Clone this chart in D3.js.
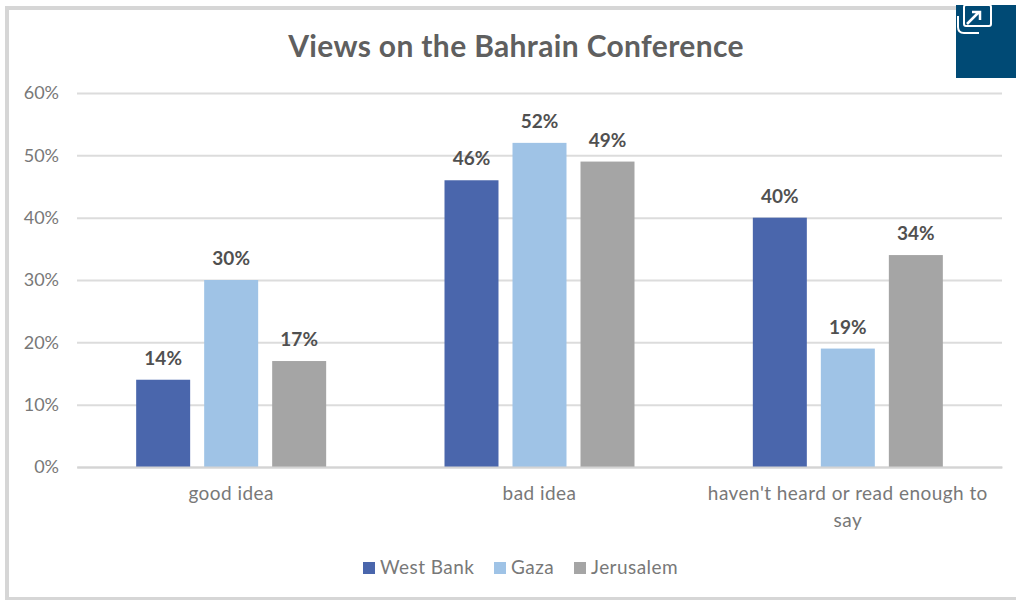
<!DOCTYPE html>
<html>
<head>
<meta charset="utf-8">
<script src="https://cdn.jsdelivr.net/npm/d3@7"></script>
<style>
  html, body { margin: 0; padding: 0; background: #fff; overflow: hidden; }
  text { font-family: Lato, "Open Sans", sans-serif; }
</style>
</head>
<body>
<script>
var categories = ["good idea", "bad idea", "haven't heard or read enough to say"];
var seriesNames = ["West Bank", "Gaza", "Jerusalem"];
var westBank = [14, 46, 40];
var gaza = [30, 52, 19];
var jerusalem = [17, 49, 34];
var yTicks = [0, 10, 20, 30, 40, 50, 60];
var seriesColors = ["#4a66ac", "#9fc3e6", "#a5a5a5"];

var width = 1016, height = 600;
var margin = { top: 93, right: 14, bottom: 133, left: 77 };
var innerH = height - margin.top - margin.bottom;

var svg = d3.select("body").append("svg")
    .attr("width", width)
    .attr("height", height);

// chart frame, the right side runs off the picture
svg.append("rect")
    .attr("x", 7).attr("y", 8)
    .attr("width", 1020).attr("height", 591)
    .attr("fill", "#fff")
    .attr("stroke", "#d6d6d6")
    .attr("stroke-width", 4);

var g = svg.append("g")
    .attr("transform", "translate(" + margin.left + "," + margin.top + ")");

var scaleX = d3.scaleBand().domain(categories).range([0, 925]);
var scaleGroup = d3.scaleBand().domain(seriesNames).range([0, 190]).paddingInner(0.206);
var scaleY = d3.scaleLinear().domain([0, 60]).range([innerH, 0]);

// gridlines and y labels
var axisY = d3.axisLeft(scaleY)
    .tickValues(yTicks)
    .tickSize(-925)
    .tickPadding(18)
    .tickFormat(function(d) { return d + "%"; });

var yAxisG = g.append("g").call(axisY);
yAxisG.select(".domain").remove();
yAxisG.selectAll(".tick line").attr("stroke", "#dcdcdc").attr("stroke-width", 2);
yAxisG.selectAll(".tick text").attr("fill", "#787878").style("font-size", "18px");

// bars
var seriesData = [westBank, gaza, jerusalem];
var groups = g.selectAll(".series")
    .data(seriesNames)
    .enter().append("g")
    .attr("class", "series")
    .attr("fill", function(d, i) { return seriesColors[i]; });

groups.each(function(name, s) {
    var sel = d3.select(this);
    var groupOffset = function(i) {
        return scaleX(categories[i]) + (scaleX.bandwidth() - 190) / 2 + scaleGroup(name);
    };
    sel.selectAll("rect")
        .data(seriesData[s])
        .enter().append("rect")
        .attr("x", function(d, i) { return groupOffset(i); })
        .attr("width", scaleGroup.bandwidth())
        .attr("y", function(d) { return scaleY(d); })
        .attr("height", function(d) { return scaleY(0) - scaleY(d); });
    sel.selectAll("text")
        .data(seriesData[s])
        .enter().append("text")
        .attr("x", function(d, i) { return groupOffset(i) + scaleGroup.bandwidth() / 2; })
        .attr("y", function(d) { return scaleY(d) - 15; })
        .attr("text-anchor", "middle")
        .attr("fill", "#505050")
        .style("font-size", "19px")
        .style("font-weight", "700")
        .text(function(d) { return d + "%"; });
});

// x axis
var xAxisG = g.append("g")
    .attr("transform", "translate(0," + scaleY(0) + ")")
    .call(d3.axisBottom(scaleX).tickSize(0).tickPadding(20));
xAxisG.select(".domain").attr("stroke", "#d4d4d4").attr("stroke-width", 2);
xAxisG.selectAll(".tick text")
    .attr("fill", "#787878")
    .style("font-size", "19px")
    .style("letter-spacing", "0.45px")
    .each(function(d) {
        if (d.length < 20) return;
        var t = d3.select(this), y = t.attr("y"), dy = t.attr("dy");
        t.text(null);
        t.append("tspan").attr("x", 0).attr("y", y).attr("dy", dy).text("haven't heard or read enough to");
        t.append("tspan").attr("x", 0).attr("y", y).attr("dy", "2.1em").text("say");
    });

// title
svg.append("text")
    .attr("x", 516).attr("y", 57)
    .attr("text-anchor", "middle")
    .attr("fill", "#5f5f5f")
    .style("font-size", "30px")
    .style("font-weight", "700")
    .style("letter-spacing", "0.35px")
    .text("Views on the Bahrain Conference");

// legend
var legendX = d3.scaleOrdinal().domain(seriesNames).range([363, 494, 574]);
var legend = svg.selectAll(".legend")
    .data(seriesNames)
    .enter().append("g")
    .attr("class", "legend")
    .attr("transform", function(d) { return "translate(" + legendX(d) + ",562)"; });
legend.append("rect")
    .attr("width", 12).attr("height", 12)
    .attr("fill", function(d, i) { return seriesColors[i]; });
legend.append("text")
    .attr("x", 17).attr("y", 12)
    .attr("fill", "#787878")
    .style("font-size", "19px")
    .style("letter-spacing", "0.45px")
    .text(function(d) { return d; });

// icon badge, top right
var badge = svg.append("g");
badge.append("rect")
    .attr("x", 956).attr("y", 5).attr("width", 60).attr("height", 73)
    .attr("fill", "#004a75");
badge.append("rect")
    .attr("x", 964).attr("y", 5).attr("width", 27).attr("height", 21).attr("rx", 2)
    .attr("fill", "none").attr("stroke", "#fff").attr("stroke-width", 2);
badge.append("path")
    .attr("d", "M958 16 v11 q0 6 6 6 h15")
    .attr("fill", "none").attr("stroke", "#fff").attr("stroke-width", 2);
badge.append("path")
    .attr("d", "M967 24 L979 12 M972 12 h8 v8")
    .attr("fill", "none").attr("stroke", "#fff").attr("stroke-width", 2.5);
</script>
</body>
</html>
